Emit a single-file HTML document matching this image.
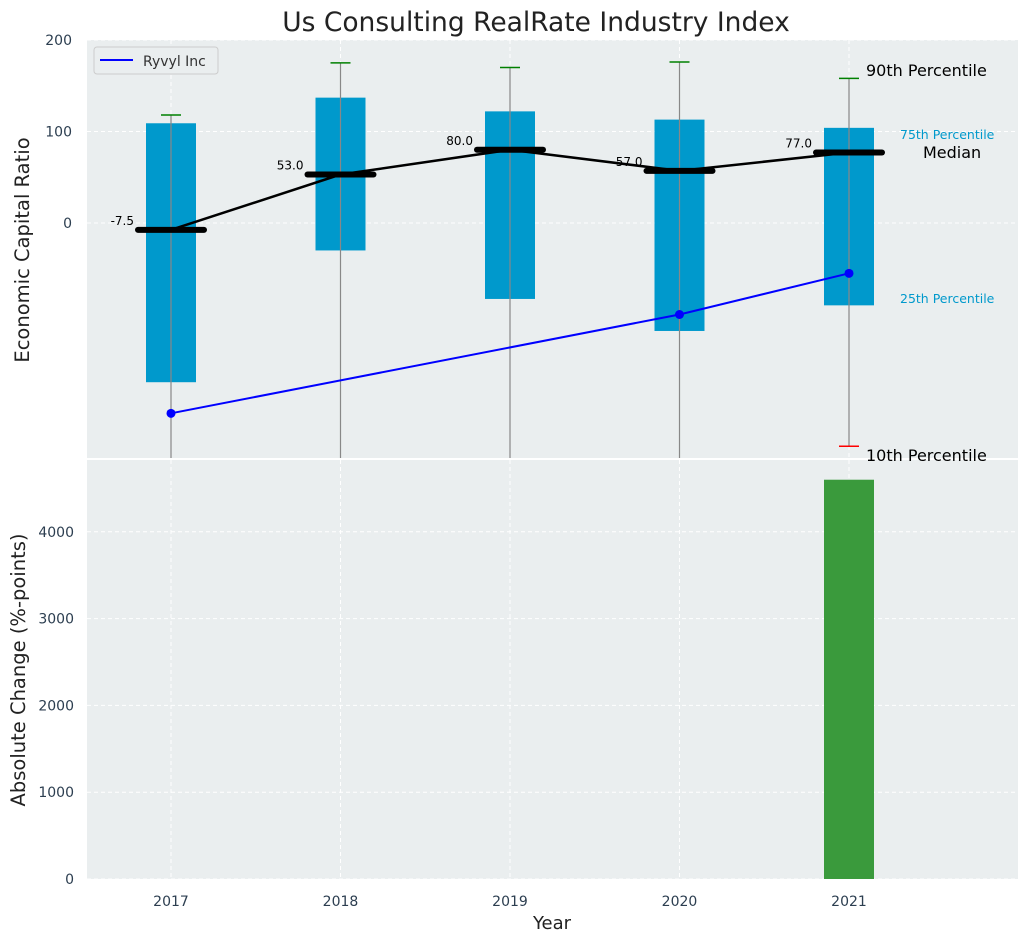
<!DOCTYPE html>
<html><head><meta charset="utf-8"><style>
body{margin:0;background:#fff;font-family:"Liberation Sans","DejaVu Sans",sans-serif;}
svg text{font-family:"DejaVu Sans","Liberation Sans",sans-serif;}
</style></head><body>
<svg id="c" width="1026" height="942" xmlns="http://www.w3.org/2000/svg"></svg>
<script>
const years=[2017,2018,2019,2020,2021];
const q75=[109,137,122,113,104];
const q25=[-174,-30,-83,-118,-90];
const p90=[118,175,170,176,158];
const p10=[-400,-400,-400,-400,-244];
const medians=[-7.5,53,80,57,77];
const ryvylYears=[2017,2020,2021];
const ryvylVals=[-208,-100,-55];
const changes=[0,0,0,0,4600];
const yTicksTop=[0,100,200];
const yTicksBot=[0,1000,2000,3000,4000];
const NS='http://www.w3.org/2000/svg';
const svg=document.getElementById('c');
function el(t,a,p){const e=document.createElementNS(NS,t);for(const k in a)e.setAttribute(k,a[k]);(p||svg).appendChild(e);return e;}
const X=y=>171+(y-2017)*169.5;
const Yt=v=>223-0.915*v;
const Yb=v=>879-0.0868*v;
const L=87,R=1018;
let p=el('rect',{x:L,y:40,width:R-L,height:418,fill:'#eaeeef'});

p=el('rect',{x:L,y:460,width:R-L,height:419,fill:'#eaeeef'});

const clipT=el('clipPath',{id:'ct'});el('rect',{x:L,y:40,width:R-L,height:418},clipT);
years.forEach(y=>{el('line',{x1:X(y),x2:X(y),y1:40,y2:458,stroke:'#fff','stroke-dasharray':'4,3'});el('line',{x1:X(y),x2:X(y),y1:460,y2:879,stroke:'#fff','stroke-dasharray':'4,3'});});
yTicksTop.forEach(v=>{el('line',{x1:L,x2:R,y1:Yt(v),y2:Yt(v),stroke:'#fff','stroke-dasharray':'4,3'});
 const t=el('text',{x:72,y:Yt(v)+5,'text-anchor':'end','font-size':14,fill:'#2c3e50'});t.textContent=v;
 });
yTicksBot.forEach(v=>{el('line',{x1:L,x2:R,y1:Yb(v),y2:Yb(v),stroke:'#fff','stroke-dasharray':'4,3'});
 const t=el('text',{x:74,y:Yb(v)+5,'text-anchor':'end','font-size':14,fill:'#2c3e50'});t.textContent=v;
 });
const g=el('g',{'clip-path':'url(#ct)'});
years.forEach((y,i)=>{
 const x=X(y);
 let b=el('rect',{x:x-25,y:Yt(q75[i]),width:50,height:Yt(q25[i])-Yt(q75[i]),fill:'#0099cc'},g);
 
 el('line',{x1:x,x2:x,y1:Yt(p90[i]),y2:Yt(p10[i]),stroke:'#888','stroke-width':1.2},g);
 el('line',{x1:x-10,x2:x+10,y1:Yt(p90[i]),y2:Yt(p90[i]),stroke:'green','stroke-width':1.5},g);
 if(p10[i]>-257)el('line',{x1:x-10,x2:x+10,y1:Yt(p10[i]),y2:Yt(p10[i]),stroke:'red','stroke-width':1.5},g);
});
let pts=years.map((y,i)=>X(y)+','+Yt(medians[i])).join(' ');
el('polyline',{points:pts,fill:'none',stroke:'#000','stroke-width':2.5},g);
years.forEach((y,i)=>{
 const m=el('line',{x1:X(y)-33,x2:X(y)+33,y1:Yt(medians[i]),y2:Yt(medians[i]),stroke:'#000','stroke-width':6,'stroke-linecap':'round'},g);
 
 const t=el('text',{x:X(y)-37,y:Yt(medians[i])-5,'text-anchor':'end','font-size':12,fill:'#000'});t.textContent=medians[i].toFixed(1);
 
});
el('polyline',{points:ryvylYears.map((y,i)=>X(y)+','+Yt(ryvylVals[i])).join(' '),fill:'none',stroke:'#0000ff','stroke-width':2},g);
ryvylYears.forEach((y,i)=>{const c=el('circle',{cx:X(y),cy:Yt(ryvylVals[i]),r:4.5,fill:'#0000ff'},g);
 });
const ann=[['90th Percentile',866,76,16,'#000'],['75th Percentile',900,139,12.5,'#0099cc'],['Median',923,158,16,'#000'],['25th Percentile',900,303,12.5,'#0099cc'],['10th Percentile',866,461,16,'#000']];
ann.forEach(a=>{const t=el('text',{x:a[1],y:a[2],'font-size':a[3],fill:a[4]});t.textContent=a[0];
 });
years.forEach((y,i)=>{const b=el('rect',{x:X(y)-25,y:Yb(changes[i]),width:50,height:879-Yb(changes[i]),fill:'#3a9a3c'});
 });
years.forEach(y=>{const t=el('text',{x:X(y),y:906,'text-anchor':'middle','font-size':14,fill:'#2c3e50'});t.textContent=y;
 });
const lg=el('g',{});
el('rect',{x:94,y:47,width:124,height:27,rx:3,fill:'#eaeeef',stroke:'#ccc'},lg);
el('line',{x1:100,x2:133,y1:60,y2:60,stroke:'#0000ff','stroke-width':2},lg);
let lt=el('text',{x:143,y:66,'font-size':14,fill:'#333'},lg);lt.textContent='Ryvyl Inc';
let t=el('text',{x:536,y:31,'text-anchor':'middle','font-size':26.5,fill:'#222'});t.textContent='Us Consulting RealRate Industry Index';

t=el('text',{x:552,y:929,'text-anchor':'middle','font-size':18,fill:'#222'});t.textContent='Year';

t=el('text',{x:0,y:0,'text-anchor':'middle','font-size':19.5,fill:'#222',transform:'translate(29,250) rotate(-90)'});t.textContent='Economic Capital Ratio';

t=el('text',{x:0,y:0,'text-anchor':'middle','font-size':19.5,fill:'#222',transform:'translate(25,670) rotate(-90)'});t.textContent='Absolute Change (%-points)';

</script>
</body></html>
